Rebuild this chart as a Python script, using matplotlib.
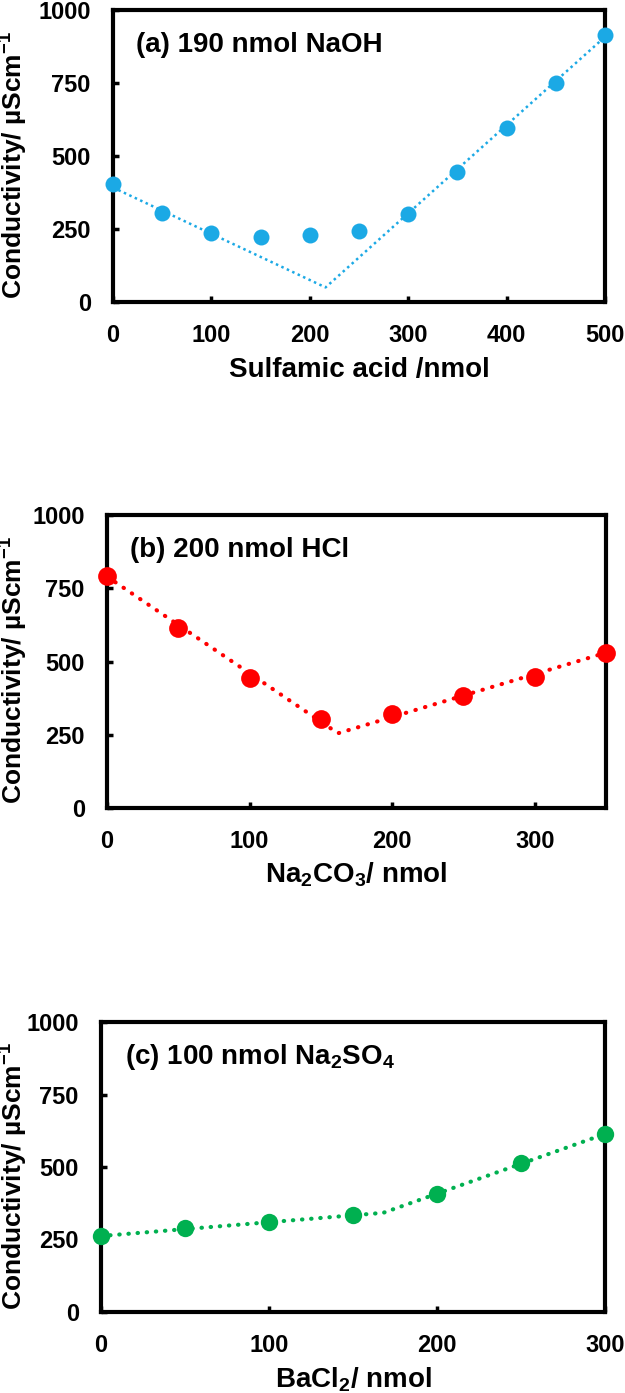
import matplotlib
matplotlib.use("Agg")
import matplotlib.pyplot as plt
from matplotlib.transforms import blended_transform_factory

plt.rcParams['font.family'] = ['Liberation Sans', 'DejaVu Sans']
plt.rcParams['font.weight'] = 'bold'
plt.rcParams['axes.labelweight'] = 'bold'
plt.rcParams['mathtext.fontset'] = 'custom'
plt.rcParams['mathtext.rm'] = 'Liberation Sans:bold'
plt.rcParams['mathtext.bf'] = 'Liberation Sans:bold'
plt.rcParams['mathtext.default'] = 'bf'

# --- data ---
# (a) 190 nmol NaOH titrated with sulfamic acid
sulf_x = [0, 50, 100, 150, 200, 250, 300, 350, 400, 450, 500]
sulf_y = [403, 306, 237, 222, 230, 243, 302, 445, 595, 751, 914]
sulf_fit_x = [0, 216, 500]
sulf_fit_y = [392, 50, 908]

# (b) 200 nmol HCl titrated with Na2CO3
carb_x = [0, 50, 100, 150, 200, 250, 300, 350]
carb_y = [791, 615, 443, 305, 320, 381, 448, 530]
carb_fit_x = [0, 162, 350]
carb_fit_y = [790, 255, 530]

# (c) 100 nmol Na2SO4 titrated with BaCl2
bacl_x = [0, 50, 100, 150, 200, 250, 300]
bacl_y = [261, 288, 309, 335, 406, 513, 614]
bacl_fit_x = [0, 168, 300]
bacl_fit_y = [262, 342, 614]

y_ticks = [0, 250, 500, 750, 1000]
ylab = 'Conductivity/ \u00b5Scm$^{-1}$'

W, H = 625, 1393
fig = plt.figure(figsize=(W / 100, H / 100), dpi=100)


def px_axes(l, t, r, b):
    return fig.add_axes([l / W, 1 - b / H, (r - l) / W, (b - t) / H])


def style(ax, xmax, xstep, xlabel, label, ylab_x_px, xpad):
    ax.set_xlim(0, xmax)
    ax.set_ylim(0, 1000)
    ax.set_xticks(range(0, xmax + 1, xstep))
    ax.set_yticks(y_ticks)
    for s in ax.spines.values():
        s.set_linewidth(3)
    ax.tick_params(direction='in', length=4, width=2.5, pad=16,
                   labelsize=17)
    ax.set_xlabel(xlabel, fontsize=20, fontweight='bold', labelpad=xpad)
    ax.set_ylabel(ylab, fontsize=19, fontweight='bold')
    tr = blended_transform_factory(fig.transFigure, ax.transAxes)
    ax.yaxis.set_label_coords(ylab_x_px / W, 0.47, transform=tr)
    ax.text(0.047, 0.88, label, transform=ax.transAxes, fontsize=20,
            fontweight='bold', va='center', ha='left')


# panel (a)
ax1 = px_axes(113, 10, 605, 302)
ax1.plot(sulf_fit_x, sulf_fit_y, color='#1BA9E5', lw=1.8,
         linestyle=(0, (1, 1.4)), zorder=2)
ax1.plot(sulf_x, sulf_y, 'o', color='#1BA9E5', ms=11.5, mew=0,
         clip_on=False, zorder=3)
style(ax1, 500, 100, 'Sulfamic acid /nmol', '(a) 190 nmol NaOH', 30, 7)

# panel (b)
ax2 = px_axes(107, 515, 606, 808)
ax2.plot(carb_fit_x, carb_fit_y, color='#FF0000', lw=3,
         linestyle=(0, (0.1, 2.3)), dash_capstyle='round', zorder=2)
ax2.plot(carb_x, carb_y, 'o', color='#FF0000', ms=13.5, mew=0,
         clip_on=False, zorder=3)
style(ax2, 350, 100, 'Na$_2$CO$_3$/ nmol', '(b) 200 nmol HCl', 30, 5)

# panel (c)
ax3 = px_axes(101, 1022, 605, 1312)
ax3.plot(bacl_fit_x, bacl_fit_y, color='#00B050', lw=3,
         linestyle=(0, (0.1, 2.1)), dash_capstyle='round', zorder=2)
ax3.plot(bacl_x, bacl_y, 'o', color='#00B050', ms=12.5, mew=0,
         clip_on=False, zorder=3)
style(ax3, 300, 100, 'BaCl$_2$/ nmol', '(c) 100 nmol Na$_2$SO$_4$', 30, 6)

fig.savefig('out.png', dpi=100)
